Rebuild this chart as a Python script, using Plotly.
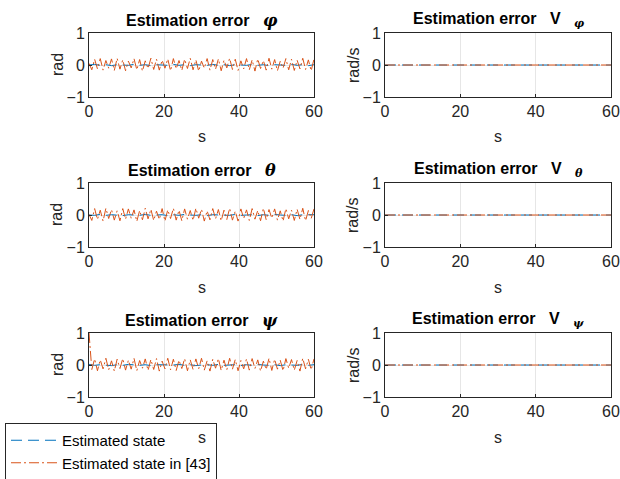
import numpy as np
import plotly.graph_objects as go

# ---------------- data ----------------
phi_prop = [0.00, 0.02, -0.01, 0.01, -0.02, 0.01, 0.00, -0.01, 0.02, -0.01, 0.01,
            -0.02, 0.01, 0.00, -0.01, 0.02, -0.01, 0.01, -0.02, 0.01, 0.00,
            -0.01, 0.02, -0.01, 0.01, -0.02, 0.01, 0.00, -0.01, 0.02, -0.01,
            0.01, -0.02, 0.01, 0.00, -0.01, 0.02, -0.01, 0.01, -0.02, 0.01]
phi_ref = [0.05, -0.15, 0.18, -0.12, 0.20, -0.16, 0.14, -0.10, 0.19, -0.17, 0.21,
           -0.13, 0.16, -0.18, 0.12, -0.09, 0.20, -0.15, 0.17, -0.19, 0.13,
           -0.11, 0.21, -0.14, 0.18, -0.16, 0.15, -0.10, 0.19, -0.18, 0.20,
           -0.12, 0.14, -0.17, 0.18, -0.11, 0.21, -0.15, 0.16, -0.19, 0.12,
           -0.10, 0.20, -0.16, 0.17, -0.13, 0.19, -0.18, 0.15, -0.09, 0.21,
           -0.14, 0.18, -0.17, 0.13, -0.12, 0.20, -0.15, 0.16, -0.19, 0.19,
           -0.11, 0.14, -0.16, 0.21, -0.13, 0.17, -0.18, 0.12, -0.10, 0.20,
           -0.15, 0.18, -0.17, 0.15, -0.12, 0.21, -0.14, 0.16, -0.18, 0.19]
theta_prop = [0.00, -0.01, 0.02, -0.01, 0.01, 0.00, -0.02, 0.01, 0.01, -0.01, 0.02,
              -0.01, 0.00, 0.01, -0.02, 0.01, -0.01, 0.02, 0.00, -0.01, 0.01,
              -0.02, 0.01, 0.00, 0.01, -0.01, 0.02, -0.01, 0.00, 0.01, -0.02,
              0.01, -0.01, 0.02, 0.00, -0.01, 0.01, -0.02, 0.01, 0.00, 0.01]
theta_ref = [0.02, -0.17, 0.20, -0.14, 0.15, -0.19, 0.21, -0.11, 0.17, -0.16, 0.13,
             -0.18, 0.20, -0.13, 0.19, -0.10, 0.16, -0.20, 0.14, -0.15, 0.21,
             -0.12, 0.18, -0.17, 0.12, -0.14, 0.20, -0.19, 0.16, -0.11, 0.21,
             -0.16, 0.15, -0.18, 0.19, -0.13, 0.14, -0.17, 0.21, -0.10, 0.18,
             -0.19, 0.13, -0.15, 0.20, -0.12, 0.17, -0.18, 0.15, -0.14, 0.21,
             -0.16, 0.12, -0.19, 0.19, -0.11, 0.16, -0.17, 0.20, -0.13, 0.14,
             -0.18, 0.21, -0.15, 0.17, -0.10, 0.19, -0.16, 0.13, -0.19, 0.20,
             -0.12, 0.15, -0.17, 0.18, -0.14, 0.21, -0.18, 0.14, -0.11, 0.19]
psi_prop = [0.02, -0.01, 0.01, 0.00, -0.02, 0.01, -0.01, 0.02, 0.00, -0.01, 0.01,
            -0.02, 0.01, 0.01, -0.01, 0.00, 0.02, -0.01, 0.01, -0.02, 0.00,
            0.01, -0.01, 0.02, -0.01, 0.00, 0.01, -0.02, 0.01, -0.01, 0.02,
            0.00, -0.01, 0.01, -0.02, 0.01, 0.00, -0.01, 0.02, -0.01, 0.01]
psi_ref = [1.00, -0.14, 0.19, -0.18, 0.16, -0.12, 0.21, -0.15, 0.13, -0.19, 0.18,
           -0.11, 0.20, -0.16, 0.15, -0.13, 0.21, -0.18, 0.14, -0.10, 0.19,
           -0.17, 0.17, -0.14, 0.20, -0.19, 0.12, -0.12, 0.21, -0.15, 0.18,
           -0.17, 0.15, -0.11, 0.20, -0.18, 0.16, -0.14, 0.19, -0.12, 0.21,
           -0.16, 0.13, -0.19, 0.18, -0.10, 0.20, -0.17, 0.15, -0.15, 0.21,
           -0.13, 0.17, -0.18, 0.14, -0.12, 0.19, -0.16, 0.20, -0.11, 0.16,
           -0.19, 0.12, -0.14, 0.21, -0.17, 0.18, -0.13, 0.15, -0.18, 0.20,
           -0.10, 0.17, -0.16, 0.14, -0.19, 0.21, -0.12, 0.18, -0.15, 0.19]
vel_time = [0, 60]
vphi_prop = [0.0, 0.0]
vphi_ref = [0.0, 0.0]
vtheta_prop = [0.0, 0.0]
vtheta_ref = [0.0, 0.0]
vpsi_prop = [0.0, 0.0]
vpsi_ref = [0.0, 0.0]

x_ticks = [0, 20, 40, 60]
y_ticks = [-1, 0, 1]

BLUE = "#0072BD"
ORANGE = "#D95319"
W, H = 620, 479

def t_of(vals):
    return np.linspace(0, 60, len(vals))

NB = "\u00a0"
SER = "<span style='font-family:DejaVu Serif'><i>%s</i></span>"
def left_title(sym):
    return "<b>Estimation error" + NB * 3 + SER % sym + "</b>"
def right_title(sym):
    return "<b>Estimation error" + NB * 3 + "V" + NB * 3 + "<sub>" + SER % sym + "</sub></b>"

panels = [
    (0, 0, phi_prop, phi_ref, None, None, left_title("φ"), "rad"),
    (0, 1, vphi_prop, vphi_ref, vel_time, vel_time, right_title("φ"), "rad/s"),
    (1, 0, theta_prop, theta_ref, None, None, left_title("θ"), "rad"),
    (1, 1, vtheta_prop, vtheta_ref, vel_time, vel_time, right_title("θ"), "rad/s"),
    (2, 0, psi_prop, psi_ref, None, None, left_title("ψ"), "rad"),
    (2, 1, vpsi_prop, vpsi_ref, vel_time, vel_time, right_title("ψ"), "rad/s"),
]

col_px = [(89, 314), (385, 611)]
row_px = [(33, 97), (183, 247), (333, 397)]

fig = go.Figure()
layout = {}
annotations = []
FONT = "Liberation Sans, Arial, sans-serif"

for i, (r, c, prop, ref, tp, tr, title, ylab) in enumerate(panels):
    n = i + 1
    xa = "x" if n == 1 else f"x{n}"
    ya = "y" if n == 1 else f"y{n}"
    xk = "xaxis" if n == 1 else f"xaxis{n}"
    yk = "yaxis" if n == 1 else f"yaxis{n}"
    x0, x1 = col_px[c]
    y0, y1 = row_px[r]
    tp = t_of(prop) if tp is None else tp
    tr = t_of(ref) if tr is None else tr
    fig.add_trace(go.Scatter(x=tp, y=prop, mode="lines", xaxis=xa, yaxis=ya,
                             line=dict(color=BLUE, width=1, dash="11px,6px"),
                             name="Estimated state", showlegend=(n == 1)))
    fig.add_trace(go.Scatter(x=tr, y=ref, mode="lines", xaxis=xa, yaxis=ya,
                             line=dict(color=ORANGE, width=1, dash="10px,3px,2px,3px"),
                             name="Estimated state in [43]", showlegend=(n == 1)))
    layout[xk] = dict(domain=[x0 / W, x1 / W], anchor=ya, range=[0, 60],
                      tickvals=x_ticks, ticks="inside", ticklen=3, tickcolor="#262626",
                      showline=True, mirror=True, linecolor="#262626", linewidth=1,
                      showgrid=True, gridcolor="#E6E6E6", gridwidth=1, zeroline=False,
                      tickfont=dict(size=16, color="#262626", family=FONT))
    layout[yk] = dict(domain=[1 - y1 / H, 1 - y0 / H], anchor=xa, range=[-1, 1],
                      tickvals=y_ticks, ticks="inside", ticklen=3, tickcolor="#262626",
                      showline=True, mirror=True, linecolor="#262626", linewidth=1,
                      showgrid=True, gridcolor="#E6E6E6", gridwidth=1, zeroline=False,
                      tickfont=dict(size=16, color="#262626", family=FONT))
    cx = (x0 + x1) / 2
    annotations.append(dict(x=cx / W, y=1 - (y0 - 13) / H, xref="paper", yref="paper",
                            text=title, showarrow=False, xanchor="center", yanchor="middle",
                            font=dict(size=16, color="black", family=FONT)))
    annotations.append(dict(x=cx / W, y=1 - (y1 + 40) / H, xref="paper", yref="paper",
                            text="s", showarrow=False, xanchor="center", yanchor="middle",
                            font=dict(size=16, color="#262626", family=FONT)))
    annotations.append(dict(x=(x0 - 32) / W, y=1 - ((y0 + y1) / 2) / H, xref="paper",
                            yref="paper", text=ylab, showarrow=False, textangle=-90,
                            xanchor="center", yanchor="middle",
                            font=dict(size=16, color="#262626", family=FONT)))

fig.update_layout(**layout)
fig.update_layout(
    width=W, height=H, margin=dict(l=0, r=0, t=0, b=0, autoexpand=False),
    paper_bgcolor="white", plot_bgcolor="white",
    annotations=annotations,
    showlegend=True,
    legend=dict(x=5 / W, y=1 - 423 / H, xanchor="left", yanchor="top",
                bgcolor="rgba(255,255,255,0)", bordercolor="#262626", borderwidth=1,
                font=dict(size=15, color="black", family=FONT),
                tracegroupgap=0, itemwidth=46),
)

fig.write_html("out.html", config={"displayModeBar": False},
               post_script="document.body.style.margin='0';document.body.style.overflow='hidden';")
